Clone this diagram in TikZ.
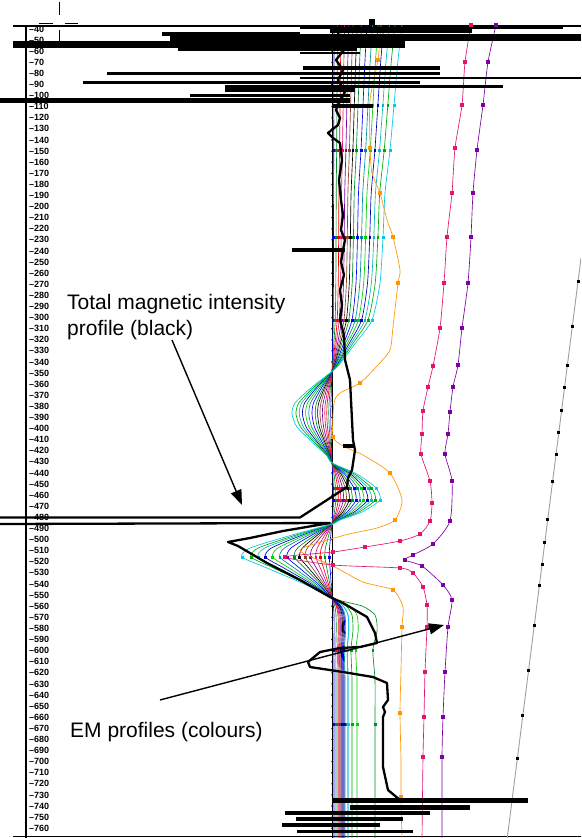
\documentclass[tikz,border=0pt]{standalone}
\usepackage{fontspec}
\setmainfont{Liberation Sans}
\usetikzlibrary{plotmarks,arrows.meta}
\definecolor{emorange}{RGB}{255,150,0}
\definecolor{emmag}{RGB}{225,20,110}
\definecolor{empur}{RGB}{125,0,160}
\definecolor{emcyan}{RGB}{0,200,230}
\definecolor{emgreen}{RGB}{0,210,0}
\definecolor{emdkgreen}{RGB}{0,140,40}
\definecolor{emteal}{RGB}{0,140,150}
\definecolor{embrown}{RGB}{140,70,40}
\begin{document}
\begin{tikzpicture}[x=1pt,y=-1pt,
  hbar/.style={line width=#1, black},
  frameline/.style={line width=1.2pt, black},
  emline/.style={line width=0.65pt},
  magline/.style={line width=2.3pt, black, line join=round},
  ticklab/.style={anchor=west, inner sep=0pt, font=\fontsize{9}{9}\selectfont\bfseries},
  annot/.style={anchor=base west, inner sep=0pt, font=\fontsize{21}{24}\selectfont},
  bigarrow/.style={line width=1.4pt, -{Triangle[length=15pt,width=11pt]}}]
\useasboundingbox (0,0) rectangle (581,838);
\fill[white] (0,0) rectangle (581,838);
\begin{scope}
\clip (0,0) rectangle (581,838);

% frame
\draw[frameline] (13,26) -- (581,26);
\draw[frameline] (26,26) -- (26,838);
\draw[line width=1.5pt] (13,836.5) -- (581,836.5);
\draw[line width=0.8pt] (59,2) -- (59,15);
\draw[line width=0.8pt] (39,23) -- (53,23);
\draw[line width=0.8pt] (65,23) -- (78,23);
\draw[line width=0.8pt] (59,30) -- (59,47) -- (61,47);
\fill (369,19) rectangle (375,25);

% tick labels
\foreach \i in {0,...,72} {
  \pgfmathtruncatemacro\v{40+10*\i}
  \node[ticklab] (t\i) at (29,{29+11.1*\i}) {–\v};
}

% gray line with markers
\coordinate (g1) at (581,258);
\coordinate (g2) at (507,840);
\draw[gray!75, line width=0.9pt] (g1) -- (g2);
\foreach \yy in {281,326,365,387,410,432,454,481,519,542,564,585,625,670,715,758,800} {
  \fill ({581-0.1271*(\yy-258)-1.5},{\yy-1.5}) rectangle ++(3,3);
}

% baseline
\draw[line width=0.6pt] (332,26) -- (332,838);
\foreach \i in {0,...,73} { \fill (332,{29+11.1*\i}) circle (0.8); }

% inner EM profiles
\foreach \k/\b/\c in {0.03/2/blue, 0.08/4/emdkgreen, 0.13/6/red, 0.18/7/emmag, 0.24/8/empur, 0.30/9/embrown, 0.36/10/black, 0.42/43/emdkgreen, 0.50/11/blue, 0.58/13/emteal, 0.66/25/emgreen, 0.74/12/blue!70!black, 0.82/16/emteal!60!cyan, 0.90/20/emgreen!80!black, 1.0/16/emcyan} {
  \draw[emline, \c] plot[smooth, tension=0.4, mark=square*, mark size=0.9pt, mark indices={3,4,6,8,19,20,26,33,35}] coordinates {
    ({332+70*\k},25) ({332+66*\k},60) ({332+62*\k},105) ({332+58*\k},150) ({332+53*\k},193) ({332+51*\k},237) ({332+48*\k},283) ({332+40*\k},320) ({332+22*\k},345) ({332+5*\k},367) ({332-20*\k},387) ({332-37*\k},403) ({332-40*\k},414) ({332-35*\k},427) ({332-20*\k},442) ({332-5*\k},456) (332,463) ({332+25*\k},474) ({332+44*\k},488) ({332+48*\k},500) ({332+30*\k},512) ({332+8*\k},520) (332,524) ({332-40*\k},535) ({332-82*\k},548) ({332-90*\k},557) ({332-65*\k},568) ({332-30*\k},583) (332,598) ({332+0.7*\b},606) ({332+\b},615) ({332+1.05*\b},630) ({332+0.95*\b},650) ({332+\b},680) ({332+\b},724) ({332+\b},768) ({332+\b},812) ({332+\b},840)};
}

% far orange
\draw[emline, emorange] plot[smooth, tension=0.4, mark=square*, mark size=1.3pt, mark indices={2,4,6,8,10,14,17,20,22,28,30,32,34}] coordinates {
  (381,25) (378,60) (370,100) (370,148) (372,173) (380,193) (387,220) (393,237) (400,270) (398,283) (393,327) (390,350) (378,365) (360,383) (340,393) (334,403) (333,437) (345,447) (363,455) (390,473) (402,500) (395,520) (377,528) (345,535) (300,550) (333,566) (363,582) (393,590) (403,607) (402,627) (401,670) (400,713) (401,760) (401,797) (402,840)};

% far magenta
\draw[emline, emmag] plot[smooth, tension=0.4, mark=square*, mark size=1.3pt] coordinates {
  (471,25) (465,62) (462,105) (455,148) (452,193) (447,237) (444,283) (440,328) (433,366) (428,387) (423,411) (422,434) (421,454) (430,481) (432,503) (430,521) (420,534) (400,541) (365,547) (333,552) (285,557) (333,565) (400,568) (413,573) (423,587) (427,605) (427,627) (425,672) (424,717) (423,757) (422,840)};

% far purple
\draw[emline, empur] plot[smooth, tension=0.4, mark=square*, mark size=1.3pt] coordinates {
  (496,25) (488,62) (483,105) (477,150) (473,193) (471,237) (468,283) (462,328) (458,365) (453,387) (450,412) (448,434) (445,454) (452,481) (450,521) (433,544) (413,555) (405,560) (422,566) (443,585) (452,600) (448,627) (445,672) (443,717) (442,757) (442,840)};

% total magnetic intensity profile
\draw[magline] (340,25) -- (338,35) -- (344,50) -- (336,60) -- (343,70) -- (338,80) -- (345,92) -- (340,100) -- (336,110) -- (340,118) -- (338,125) -- (328,133) -- (333,138) -- (340,143) -- (342,160) -- (339,180) -- (341,200) -- (343,215) -- (341,230) -- (345,240) -- (343,250) -- (341,262) -- (344,275) -- (340,290) -- (342,305) -- (340,320) -- (344,335) -- (345,360) -- (350,380) -- (352,420) -- (353,440) -- (355,450) -- (352,470) -- (348,478) -- (347,487) -- (300,517.5) -- (0,517.5);
\draw[magline] (0,524) -- (330,523) -- (283,531) -- (250,538) -- (228,542) -- (238,546) -- (267,563) -- (300,580) -- (330,597) -- (343,603) -- (367,617) -- (375,633) -- (377,643) -- (360,647) -- (340,648) -- (320,652) -- (308,662) -- (310,667) -- (343,672) -- (373,677) -- (387,683) -- (388,700) -- (383,707) -- (385,712) -- (383,717) -- (383,767) -- (388,790) -- (400,800);

% bars (top)
\draw[hbar=2pt] (300,27.5) -- (563,27.5);
\draw[hbar=5pt] (330,30.5) -- (472,30.5);
\draw[hbar=4pt] (162,34) -- (300,34);
\draw[hbar=7pt] (170,37.5) -- (581,37.5);
\draw[hbar=7pt] (13,44) -- (405,44);
\draw[hbar=3pt] (178,49) -- (357,49);
\draw[hbar=2pt] (300,53) -- (360,53);
\draw[hbar=4pt] (303,68) -- (440,68);
\draw[hbar=3pt] (107,73) -- (440,73);
\draw[hbar=2pt] (300,77.5) -- (581,77.5);
\draw[hbar=3pt] (83,82) -- (420,82);
\draw[hbar=3pt] (225,86) -- (503,86);
\draw[hbar=4pt] (225,90) -- (355,90);
\draw[hbar=3pt] (190,95.5) -- (350,95.5);
\draw[hbar=5pt] (0,100) -- (350,100);
\draw[hbar=4pt] (332,106) -- (373,106);
\draw[hbar=4pt] (292,250) -- (345,250);
\draw[hbar=4pt] (343,446) -- (355,446);
% bars (bottom)
\draw[hbar=5pt] (333,800.5) -- (528,800.5);
\draw[hbar=5pt] (350,807) -- (470,807);
\draw[hbar=4pt] (285,813) -- (430,813);
\draw[hbar=4pt] (296,819) -- (403,819);
\draw[hbar=4pt] (282,825) -- (380,825);
\draw[hbar=3pt] (297,831) -- (413,831);

% annotations
\node[annot] (tmi1) at (67,309) {Total magnetic intensity};
\node[annot] (tmi2) at (67,335) {profile (black)};
\node[annot] (emp) at (70,737) {EM profiles (colours)};
\coordinate (a1s) at (172,340);
\coordinate (a1e) at (242,505);
\draw[bigarrow] (a1s) -- (a1e);
\coordinate (a2s) at (160,700);
\coordinate (a2e) at (444,625);
\draw[bigarrow] (a2s) -- (a2e);
\end{scope}
\end{tikzpicture}
\end{document}
